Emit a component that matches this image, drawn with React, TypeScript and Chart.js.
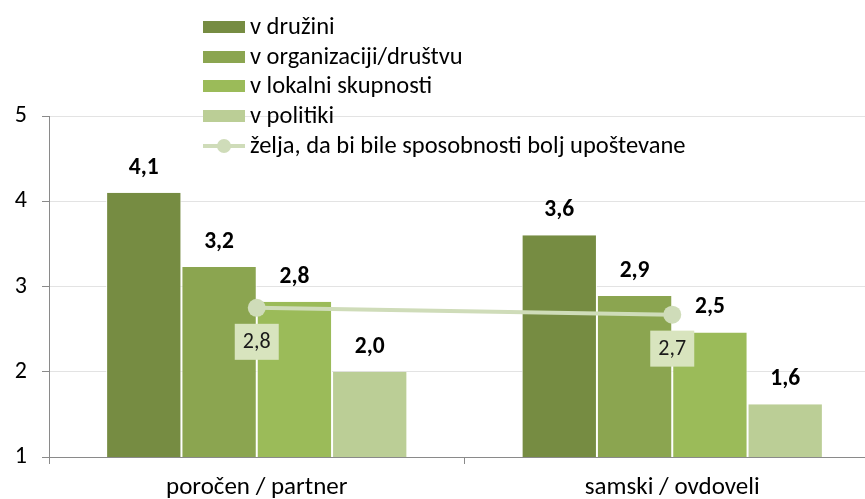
import React, { useEffect, useRef } from "react";
import { Chart, registerables } from "chart.js";

Chart.register(...registerables);

const categories = ["poročen / partner", "samski / ovdoveli"];
const seriesNames = ["v družini", "v organizaciji/društvu", "v lokalni skupnosti", "v politiki"];
const vDruzini = [4.1, 3.6];
const vOrganizaciji = [3.23, 2.89];
const vLokalni = [2.82, 2.46];
const vPolitiki = [2.0, 1.62];
const lineName = "želja, da bi bile sposobnosti bolj upoštevane";
const zelja = [2.75, 2.67];
const yMin = 1;
const yMax = 5;

const barColors = ["#768C42", "#8BA550", "#9BBB59", "#BBCE96"];
const lineColor = "#CFDCB9";
const lineLabelBg = "#D8E4BE";
const FONT = "Carlito, Calibri, Lato, sans-serif";

const fmt = (v: number) => v.toFixed(1).replace(".", ",");

const labelsPlugin = {
  id: "labels",
  afterDatasetsDraw(chart: any) {
    const ctx = chart.ctx;
    ctx.save();
    ctx.textAlign = "center";
    ctx.textBaseline = "middle";
    chart.data.datasets.forEach((ds: any, i: number) => {
      const meta = chart.getDatasetMeta(i);
      meta.data.forEach((el: any, j: number) => {
        const v = ds.data[j];
        if (ds.type === "line") {
          const cx = el.x;
          const cy = el.y + 34;
          ctx.fillStyle = lineLabelBg;
          ctx.fillRect(cx - 22, cy - 18, 44, 36);
          ctx.fillStyle = "#1a1a1a";
          ctx.font = `22px ${FONT}`;
          ctx.fillText(fmt(v), cx, cy + 1);
        } else {
          ctx.fillStyle = "#000";
          ctx.font = `bold 23.5px ${FONT}`;
          ctx.fillText(fmt(v), el.x, el.y - 25);
        }
      });
    });
    ctx.restore();
  },
  afterDraw(chart: any) {
    const ctx = chart.ctx;
    ctx.save();
    const x0 = 203;
    const ys = [27, 57, 86, 116, 146];
    ctx.textBaseline = "middle";
    ctx.textAlign = "left";
    ctx.font = `24.5px ${FONT}`;
    seriesNames.forEach((name, i) => {
      ctx.fillStyle = barColors[i];
      ctx.fillRect(x0, ys[i] - 6, 42, 12);
      ctx.fillStyle = "#000";
      ctx.fillText(name, 250, ys[i] + 1);
    });
    const ly = ys[4];
    ctx.strokeStyle = lineColor;
    ctx.lineWidth = 4;
    ctx.beginPath();
    ctx.moveTo(x0, ly);
    ctx.lineTo(x0 + 42, ly);
    ctx.stroke();
    ctx.fillStyle = lineColor;
    ctx.beginPath();
    ctx.arc(x0 + 21, ly, 7, 0, Math.PI * 2);
    ctx.fill();
    ctx.fillStyle = "#000";
    ctx.fillText(lineName, 250, ly + 1);
    ctx.restore();
  },
};

export default function App() {
  const ref = useRef<HTMLCanvasElement>(null);
  useEffect(() => {
    if (!ref.current) return;
    const barDs = [vDruzini, vOrganizaciji, vLokalni, vPolitiki].map((d, i) => ({
      type: "bar" as const,
      label: seriesNames[i],
      data: d,
      backgroundColor: barColors[i],
      borderColor: "#ffffff",
      borderWidth: { left: 1, right: 1, top: 0, bottom: 0 },
      borderSkipped: false,
      barPercentage: 1,
      categoryPercentage: 0.725,
      order: 2,
    }));
    const chart = new Chart(ref.current, {
      type: "bar",
      data: {
        labels: categories,
        datasets: [
          ...barDs,
          {
            type: "line" as const,
            label: lineName,
            data: zelja,
            borderColor: lineColor,
            backgroundColor: lineColor,
            borderWidth: 4,
            pointRadius: 9,
            pointBackgroundColor: lineColor,
            pointBorderWidth: 0,
            order: 1,
          },
        ] as any,
      },
      options: {
        animation: false,
        responsive: false,
        devicePixelRatio: 1,
        layout: { padding: { top: 116, right: 1, left: 0, bottom: 0 } },
        plugins: { legend: { display: false }, tooltip: { enabled: false } },
        scales: {
          x: {
            offset: true,
            grid: {
              display: true,
              offset: true,
              drawOnChartArea: false,
              drawTicks: true,
              tickLength: 7,
              color: "#8a8a8a",
            },
            border: { color: "#8a8a8a", width: 1 },
            ticks: { color: "#000", font: { family: FONT, size: 25 }, padding: 9 },
            afterFit: (s: any) => {
              s.height = 520 - 457;
            },
          },
          y: {
            min: yMin,
            max: yMax,
            ticks: { stepSize: 1, color: "#000", font: { family: FONT, size: 24 }, padding: 15 },
            grid: { color: "#E3E3E3", drawTicks: true, tickLength: 7, tickColor: "#8a8a8a" },
            border: { color: "#8a8a8a", width: 1 },
            afterFit: (s: any) => {
              s.width = 49;
            },
          },
        },
      },
      plugins: [labelsPlugin],
    });
    return () => chart.destroy();
  }, []);
  return (
    <div
      style={{
        position: "fixed",
        left: 0,
        top: 0,
        width: 865,
        height: 499,
        overflow: "hidden",
        background: "#fff",
      }}
    >
      <canvas ref={ref} width={889} height={520} style={{ display: "block" }} />
    </div>
  );
}
